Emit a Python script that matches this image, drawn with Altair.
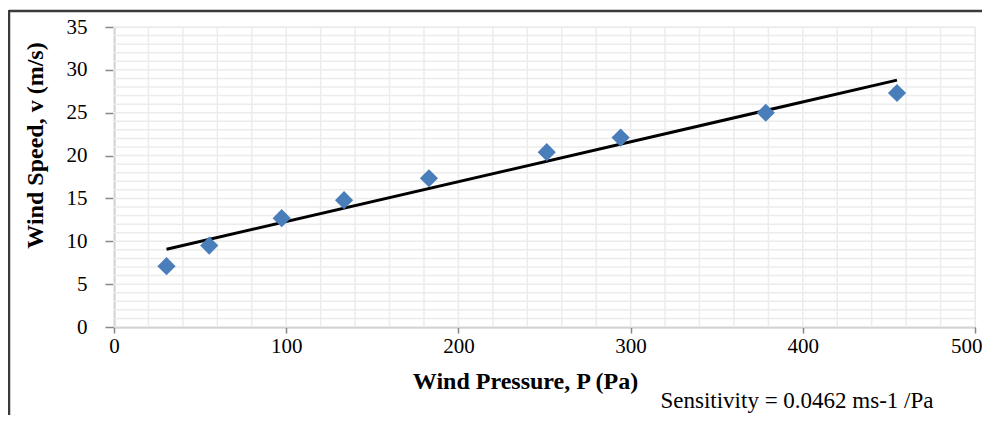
import altair as alt
import pandas as pd

# Data
pressure = [30.5, 55.3, 97.4, 133.6, 182.9, 251.3, 294.2, 378.5, 454.7]
speed = [7.1, 9.5, 12.7, 14.8, 17.35, 20.4, 22.1, 25.0, 27.3]

x_ticks = [0, 100, 200, 300, 400, 500]
y_ticks = [0, 5, 10, 15, 20, 25, 30, 35]
grid_x = list(range(0, 501, 20))
grid_y = list(range(0, 36, 1))

x_title = "Wind Pressure, P  (Pa)"
y_title = "Wind Speed, v (m/s)"
note = ["Sensitivity = 0.0462 ms-1 /Pa"]

df = pd.DataFrame({"P": pressure, "v": speed})
gx = pd.DataFrame({"P": grid_x})
gy = pd.DataFrame({"v": grid_y})
notes = pd.DataFrame({"t": note})

FONT = "Liberation Serif"
AXC = "#878787"

xs = alt.Scale(domain=[0, 500], nice=False, zero=False)
ys = alt.Scale(domain=[0, 35], nice=False, zero=False)

x_axis = alt.Axis(
    values=x_ticks, grid=False, tickSize=6, tickWidth=1.5, tickColor=AXC,
    domainColor=AXC, domainWidth=1.5, labelFont=FONT, labelFontSize=21,
    labelColor="#000000", labelPadding=2, labelFlush=False, labelOverlap=False,
    labelAlign={"condition": {"test": "datum.value >= 500", "value": "right"},
                "value": "center"},
    labelOffset={"condition": {"test": "datum.value >= 500", "value": 7},
                 "value": 0},
    title=x_title, titleFont=FONT, titleFontSize=24, titleFontWeight="bold",
    titleColor="#000000", titleX=411, titleY=61, titleBaseline="alphabetic",
    titleAlign="center", titleAnchor="start",
)
y_axis = alt.Axis(
    values=y_ticks, grid=False, tickSize=9, tickWidth=1.5, tickColor=AXC,
    domainColor=AXC, domainWidth=1.5, labelFont=FONT, labelFontSize=21,
    labelColor="#000000", labelPadding=18, labelFlush=False, labelOverlap=False,
    title=y_title, titleFont=FONT, titleFontSize=24, titleFontWeight="bold",
    titleColor="#000000", titleX=-67, titleY=118, titleBaseline="bottom",
    titleAlign="center", titleAngle=-90, titleAnchor="start",
)

X = alt.X("P:Q", scale=xs, axis=x_axis)
Y = alt.Y("v:Q", scale=ys, axis=y_axis)

vgrid = alt.Chart(gx).mark_rule(color="#ececec", strokeWidth=1.5).encode(x=X)
hgrid = alt.Chart(gy).mark_rule(color="#ececec", strokeWidth=1.5).encode(y=Y)

points = alt.Chart(df).mark_point(
    shape="diamond", filled=True, color="#4a7ebb", size=330, opacity=1
).encode(x=X, y=Y)

fit = alt.Chart(df).transform_regression("P", "v").mark_line(
    color="#000000", strokeWidth=3
).encode(x=X, y=Y)

note_text = alt.Chart(notes).mark_text(
    font=FONT, fontSize=23, color="#000000", align="center",
    baseline="alphabetic"
).encode(text="t:N", x=alt.value(683), y=alt.value(381))

one = pd.DataFrame({"a": [0]})
frame_top = alt.Chart(one).mark_rule(color="#3a3a3a", strokeWidth=2.5).encode(
    x=alt.value(-105), x2=alt.value(870), y=alt.value(-16)
)
frame_left = alt.Chart(one).mark_rule(color="#3a3a3a", strokeWidth=2.5).encode(
    x=alt.value(-105), y=alt.value(-17), y2=alt.value(392)
)

chart = alt.layer(
    vgrid, hgrid, fit, points, note_text, frame_top, frame_left
).properties(
    width=861,
    height=300,
    padding={"left": 106, "top": 19, "right": 7, "bottom": 88},
    autosize=alt.AutoSizeParams(type="none"),
).configure_view(stroke=None).configure(background="white")

chart.save("out.html", embed_options={"renderer": "svg", "actions": False})
